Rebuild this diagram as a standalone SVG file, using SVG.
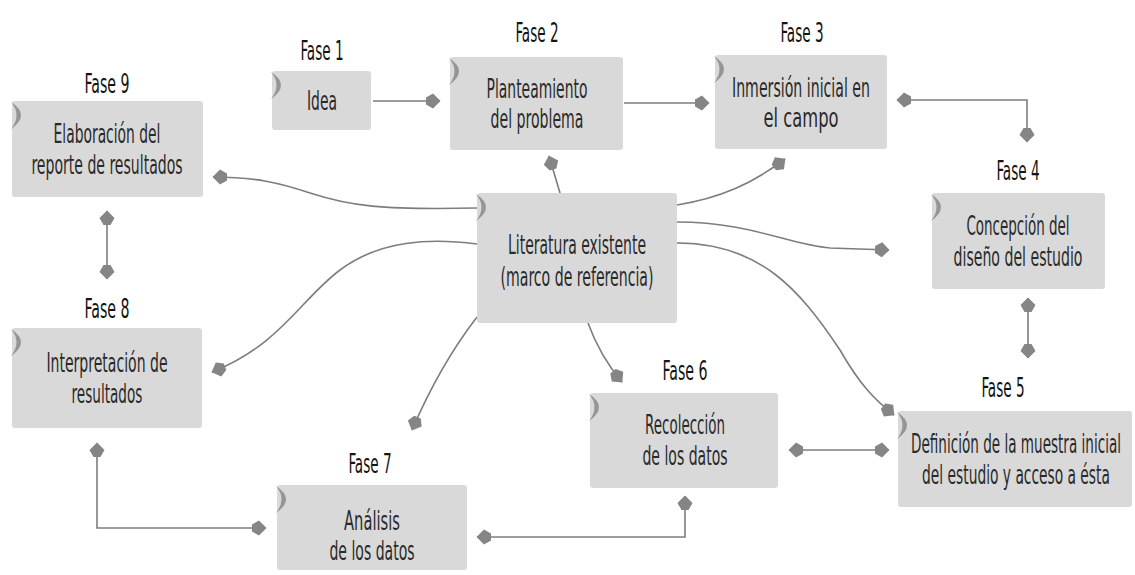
<svg xmlns="http://www.w3.org/2000/svg" width="1135" height="575" viewBox="0 0 1135 575">
<style>
.box{fill:#d9d9d9;}
.tab{fill:#959595;}
.lbl{font-family:"DejaVu Sans Condensed","DejaVu Sans","Liberation Sans",sans-serif;font-size:26px;fill:#141414;text-anchor:middle;}
.txt{font-family:"DejaVu Sans Condensed","DejaVu Sans","Liberation Sans",sans-serif;font-size:26px;fill:#2a2a2a;text-anchor:middle;}
.c{fill:none;stroke:#7d7d7d;stroke-width:1.6;}
</style>
<defs>
<marker id="ah" markerWidth="18" markerHeight="18" refX="16" refY="9" orient="auto-start-reverse" markerUnits="userSpaceOnUse">
<path d="M16.5,9 L9,1.5 L2,5.5 L2,12.5 L9,16.5 Z" fill="#858585"/>
</marker>
</defs>
<rect width="1135" height="575" fill="#ffffff"/>

<g id="connectors">
<path class="c" d="M373,101 L440,101" marker-end="url(#ah)"/>
<path class="c" d="M624,103 L709,103" marker-end="url(#ah)"/>
<path class="c" d="M897,100 L1027,100 L1027,142" marker-start="url(#ah)" marker-end="url(#ah)"/>
<path class="c" d="M1028,298 L1028,358" marker-start="url(#ah)" marker-end="url(#ah)"/>
<path class="c" d="M789,450 L889,450" marker-start="url(#ah)" marker-end="url(#ah)"/>
<path class="c" d="M685,496 L685,537 L477,537" marker-start="url(#ah)" marker-end="url(#ah)"/>
<path class="c" d="M97,443 L97,528 L266,528" marker-start="url(#ah)" marker-end="url(#ah)"/>
<path class="c" d="M107,211 L107,279" marker-start="url(#ah)" marker-end="url(#ah)"/>
<path class="c" d="M560,193 L549,156" marker-end="url(#ah)"/>
<path class="c" d="M677,205 C720,198 752,184 785,159" marker-end="url(#ah)"/>
<path class="c" d="M477,208 C380,210 350,206 310,193 C280,183 255,177 213,177" marker-end="url(#ah)"/>
<path class="c" d="M477,244 C430,238 380,240 340,270 C300,300 280,345 212,372" marker-end="url(#ah)"/>
<path class="c" d="M477,317 Q440,365 412,430" marker-end="url(#ah)"/>
<path class="c" d="M588,323 Q600,356 622,382" marker-end="url(#ah)"/>
<path class="c" d="M677,222 C750,222 790,245 830,248 L889,250" marker-end="url(#ah)"/>
<path class="c" d="M677,243 C760,243 800,290 840,350 C860,385 875,400 894,415" marker-end="url(#ah)"/>
</g>

<g id="fase9">
<text class="lbl" transform="translate(107,93) scale(0.6,1)" textLength="75" lengthAdjust="spacingAndGlyphs">Fase 9</text>
<rect class="box" x="12" y="101" width="191" height="96" rx="3"/>
<path class="tab" d="M11,102 Q31,115 11,129 Q22,115 11,102 Z"/>
<text class="txt" transform="translate(107,143) scale(0.6,1)" textLength="178" lengthAdjust="spacingAndGlyphs">Elaboración del</text>
<text class="txt" transform="translate(107,174) scale(0.6,1)" textLength="252" lengthAdjust="spacingAndGlyphs">reporte de resultados</text>
</g>

<g id="fase1">
<text class="lbl" transform="translate(322,60) scale(0.6,1)" textLength="72" lengthAdjust="spacingAndGlyphs">Fase 1</text>
<rect class="box" x="272" y="71" width="99" height="59" rx="3"/>
<path class="tab" d="M271,72 Q291,85 271,99 Q282,85 271,72 Z"/>
<text class="txt" transform="translate(322,110) scale(0.6,1)" textLength="50" lengthAdjust="spacingAndGlyphs">Idea</text>
</g>

<g id="fase2">
<text class="lbl" transform="translate(537,42) scale(0.6,1)" textLength="72" lengthAdjust="spacingAndGlyphs">Fase 2</text>
<rect class="box" x="450" y="57" width="173" height="93" rx="3"/>
<path class="tab" d="M449,58 Q469,71 449,85 Q460,71 449,58 Z"/>
<text class="txt" transform="translate(537,98) scale(0.6,1)" textLength="168" lengthAdjust="spacingAndGlyphs">Planteamiento</text>
<text class="txt" transform="translate(537,128) scale(0.6,1)" textLength="155" lengthAdjust="spacingAndGlyphs">del problema</text>
</g>

<g id="fase3">
<text class="lbl" transform="translate(802,42) scale(0.6,1)" textLength="72" lengthAdjust="spacingAndGlyphs">Fase 3</text>
<rect class="box" x="715" y="55" width="172" height="94" rx="3"/>
<path class="tab" d="M714,56 Q734,69 714,83 Q725,69 714,56 Z"/>
<text class="txt" transform="translate(801,97) scale(0.6,1)" textLength="230" lengthAdjust="spacingAndGlyphs">Inmersión inicial en</text>
<text class="txt" transform="translate(801,127) scale(0.6,1)" textLength="125" lengthAdjust="spacingAndGlyphs">el campo</text>
</g>

<g id="fase4">
<text class="lbl" transform="translate(1018,180) scale(0.6,1)" textLength="72" lengthAdjust="spacingAndGlyphs">Fase 4</text>
<rect class="box" x="932" y="193" width="173" height="96" rx="3"/>
<path class="tab" d="M931,194 Q951,207 931,221 Q942,207 931,194 Z"/>
<text class="txt" transform="translate(1018,235) scale(0.6,1)" textLength="172" lengthAdjust="spacingAndGlyphs">Concepción del</text>
<text class="txt" transform="translate(1018,266) scale(0.6,1)" textLength="215" lengthAdjust="spacingAndGlyphs">diseño del estudio</text>
</g>

<g id="literatura">
<rect class="box" x="477" y="193" width="200" height="130" rx="3"/>
<path class="tab" d="M476,194 Q496,207 476,221 Q487,207 476,194 Z"/>
<text class="txt" transform="translate(577,254) scale(0.6,1)" textLength="230" lengthAdjust="spacingAndGlyphs">Literatura existente</text>
<text class="txt" transform="translate(577,286) scale(0.6,1)" textLength="255" lengthAdjust="spacingAndGlyphs">(marco de referencia)</text>
</g>

<g id="fase8">
<text class="lbl" transform="translate(107,318) scale(0.6,1)" textLength="75" lengthAdjust="spacingAndGlyphs">Fase 8</text>
<rect class="box" x="12" y="328" width="190" height="100" rx="3"/>
<path class="tab" d="M11,329 Q31,342 11,356 Q22,342 11,329 Z"/>
<text class="txt" transform="translate(107,372) scale(0.6,1)" textLength="202" lengthAdjust="spacingAndGlyphs">Interpretación de</text>
<text class="txt" transform="translate(107,403) scale(0.6,1)" textLength="118" lengthAdjust="spacingAndGlyphs">resultados</text>
</g>

<g id="fase6">
<text class="lbl" transform="translate(685,380) scale(0.6,1)" textLength="75" lengthAdjust="spacingAndGlyphs">Fase 6</text>
<rect class="box" x="590" y="393" width="188" height="95" rx="3"/>
<path class="tab" d="M589,394 Q609,407 589,421 Q600,407 589,394 Z"/>
<text class="txt" transform="translate(685,434) scale(0.6,1)" textLength="133" lengthAdjust="spacingAndGlyphs">Recolección</text>
<text class="txt" transform="translate(685,465) scale(0.6,1)" textLength="142" lengthAdjust="spacingAndGlyphs">de los datos</text>
</g>

<g id="fase5">
<text class="lbl" transform="translate(1003,397) scale(0.6,1)" textLength="72" lengthAdjust="spacingAndGlyphs">Fase 5</text>
<rect class="box" x="898" y="411" width="234" height="96" rx="3"/>
<path class="tab" d="M897,412 Q917,425 897,439 Q908,425 897,412 Z"/>
<text class="txt" transform="translate(1016,453) scale(0.6,1)" textLength="350" lengthAdjust="spacingAndGlyphs">Definición de la muestra inicial</text>
<text class="txt" transform="translate(1016,484) scale(0.6,1)" textLength="313" lengthAdjust="spacingAndGlyphs">del estudio y acceso a ésta</text>
</g>

<g id="fase7">
<text class="lbl" transform="translate(370,473) scale(0.6,1)" textLength="72" lengthAdjust="spacingAndGlyphs">Fase 7</text>
<rect class="box" x="277" y="485" width="190" height="85" rx="3"/>
<path class="tab" d="M276,486 Q296,499 276,513 Q287,499 276,486 Z"/>
<text class="txt" transform="translate(372,530) scale(0.6,1)" textLength="93" lengthAdjust="spacingAndGlyphs">Análisis</text>
<text class="txt" transform="translate(372,560) scale(0.6,1)" textLength="142" lengthAdjust="spacingAndGlyphs">de los datos</text>
</g>
</svg>
